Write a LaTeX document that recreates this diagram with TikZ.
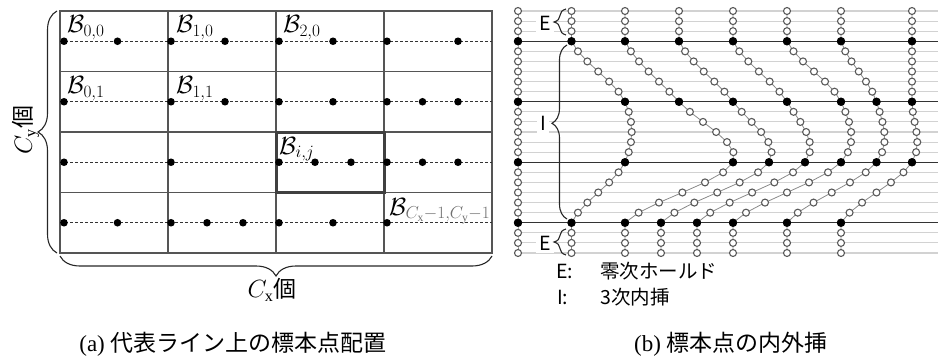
\documentclass[tikz,border=0pt]{standalone}
\usepackage{fontspec}
\setmainfont{Liberation Serif}
\newfontfamily\jp{Noto Sans CJK JP}
\usetikzlibrary{decorations.pathreplacing}
\definecolor{gridc}{HTML}{555555}
\definecolor{boxc}{HTML}{404040}
\definecolor{dashc}{HTML}{333333}
\definecolor{rowc}{HTML}{D2D2D2}
\definecolor{mainc}{HTML}{333333}
\definecolor{chainc}{HTML}{8A8A8A}
\definecolor{circc}{HTML}{5A5A5A}
\definecolor{subc}{HTML}{707070}
\begin{document}
\begin{tikzpicture}[x=1pt,y=-1pt,
  gridline/.style={draw=gridc,line width=1.1pt},
  thickbox/.style={draw=boxc,line width=3pt},
  dashline/.style={draw=dashc,line width=0.9pt,dash pattern=on 3pt off 2pt},
  rowline/.style={draw=rowc,line width=1.1pt},
  mainline/.style={draw=mainc,line width=1.3pt},
  chainline/.style={draw=chainc,line width=0.8pt},
  opencirc/.style={draw=circc,fill=white,line width=1.1pt},
  bracestyle/.style={decorate,draw=black!85,line width=1.1pt},
  blab/.style={anchor=base west,inner sep=0pt,font=\fontsize{23}{26}\selectfont},
  caption/.style={font=\fontsize{23}{26}\selectfont,inner sep=0pt},
  ctext/.style={font=\fontsize{23}{25}\selectfont,inner sep=0pt},
  lab/.style={font=\fontsize{19.5}{22}\selectfont\jp,inner sep=0pt},
  labw/.style={font=\fontsize{19.5}{22}\selectfont\jp,fill=white,inner sep=3pt}
]
\useasboundingbox (0,0) rectangle (938,361);

% ---------------- (a) left panel ----------------
\draw[gridline] (60,11) rectangle (492,253);
\foreach \x in {168,276,384} \draw[gridline] (\x,11) -- (\x,253);
\foreach \y in {71.5,132,192.5} \draw[gridline] (60,\y) -- (492,\y);
\foreach \y in {41.25,101.75,162.25,222.75} \draw[dashline] (60,\y) -- (492,\y);
\draw[thickbox] (276,132) -- (384,132) -- (384,192.5) -- (276,192.5) -- cycle;

\foreach \x in {64,117.5,171,225,279,333,387,458} \fill (\x,41.25) circle[radius=3.8pt];
\foreach \x in {64,171,225,279,333,387,422.5,458} \fill (\x,101.75) circle[radius=3.8pt];
\foreach \x in {64,171,279,315,351,387,422.5,458} \fill (\x,162.25) circle[radius=3.8pt];
\foreach \x in {64,117.5,171,207,243,279,333,387} \fill (\x,222.75) circle[radius=3.8pt];

\node[blab] (b00) at (67,33) {$\mathcal{B}_{0,0}$};
\node[blab] (b10) at (176,33) {$\mathcal{B}_{1,0}$};
\node[blab] (b20) at (283,33) {$\mathcal{B}_{2,0}$};
\node[blab] (b01) at (67,94) {$\mathcal{B}_{0,1}$};
\node[blab] (b11) at (176,94) {$\mathcal{B}_{1,1}$};
\node[blab] (bij) at (279,154) {$\mathcal{B}_{i,j}$};
\node[blab] (blast) at (389,215) {$\mathcal{B}_{\color{subc}C_{\mathrm{x}}-1,C_{\mathrm{y}}-1}$};

\draw[bracestyle,decoration={brace,amplitude=19pt}] (57,253) -- (57,11);
\draw[bracestyle,decoration={brace,amplitude=20pt}] (492,256) -- (60,256);
\node[ctext,rotate=90] (cy) at (26,130) {$C_{\mathrm{y}}${\jp 個}};
\node[ctext] (cx) at (272,290) {$C_{\mathrm{x}}${\jp 個}};

\node[caption] (capa) at (233,344) {(a) {\jp 代表ライン上の標本点配置}};

% ---------------- (b) right panel ----------------
\foreach \r in {0,...,24}{
  \pgfmathsetmacro\yval{41.25+(\r-3)*60.5/6}
  \draw[rowline] (518,\yval) -- (938,\yval);
}
\foreach \y in {41.25,101.75,162.25,222.75} \draw[mainline] (518,\y) -- (938,\y);

\node[labw] (eTop) at (545,23) {E};
\node[labw] (iMid) at (543,123) {I};
\node[labw] (eBot) at (545,243) {E};
\draw[bracestyle,decoration={brace,amplitude=12pt}] (566,35) -- (566,9);
\draw[bracestyle,decoration={brace,amplitude=15pt,aspect=0.55}] (567,219) -- (567,45);
\draw[bracestyle,decoration={brace,amplitude=12pt}] (566,255) -- (566,229);

\foreach \qa/\qb/\qc/\qd in {64/64/64/64, 117.5/171/171/117.5, 171/225/279/171, 225/279/315/207,
    279/333/351/243, 333/387/387/279, 387/422.5/422.5/333, 458/458/458/387}{
  \foreach \r in {0,...,24}{
    \pgfmathsetmacro\yval{41.25+(\r-3)*60.5/6}
    \ifnum\r<4 \edef\xval{\qa}\else\ifnum\r>20 \edef\xval{\qd}\else
      \pgfmathtruncatemacro\sval{(\r-3)/6}
      \pgfmathsetmacro\tval{(\r-3-6*\sval)/6}
      \ifcase\sval \edef\ka{\qa}\edef\kb{\qa}\edef\kc{\qb}\edef\kd{\qc}%
      \or \edef\ka{\qa}\edef\kb{\qb}\edef\kc{\qc}\edef\kd{\qd}%
      \or \edef\ka{\qb}\edef\kb{\qc}\edef\kc{\qd}\edef\kd{\qd}\fi
      \pgfmathsetmacro\xval{0.5*(2*\kb+(\kc-\ka)*\tval+(2*\ka-5*\kb+4*\kc-\kd)*\tval*\tval+(-\ka+3*\kb-3*\kc+\kd)*\tval*\tval*\tval)}
    \fi\fi
    \coordinate (c\r) at ({\xval+454},\yval);
  }
  \draw[chainline] (c0) \foreach \r in {1,...,24}{ -- (c\r) };
  \foreach \r in {0,...,24} \filldraw[opencirc] (c\r) circle[radius=3.5pt];
  \foreach \r in {3,9,15,21} \fill (c\r) circle[radius=4.2pt];
}

\node[lab,anchor=west] (legE) at (556,271) {E:};
\node[lab,anchor=west] (legEt) at (600,271) {零次ホールド};
\node[lab,anchor=west] (legI) at (557,297) {I:};
\node[lab,anchor=west] (legIt) at (600,297) {3次内挿};

\node[caption] (capb) at (731,344) {(b) {\jp 標本点の内外挿}};
\end{tikzpicture}
\end{document}
